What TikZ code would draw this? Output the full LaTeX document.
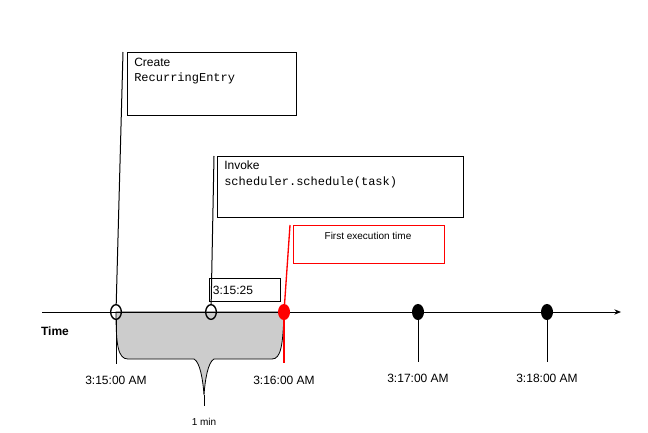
\documentclass[tikz,border=0pt]{standalone}
\usepackage{fontspec}
\setmainfont{Liberation Sans}
\setmonofont{Liberation Mono}
\usetikzlibrary{arrows.meta,shapes.geometric}
\begin{document}
\begin{tikzpicture}[x=0.75pt,y=-0.75pt,
  lbl/.style={font=\fontsize{9}{10}\selectfont,inner sep=0pt},
  box/.style={draw,line width=0.75pt},
  ev/.style={draw,line width=1pt,ellipse,minimum width=8pt,minimum height=11pt,inner sep=0pt},
  ln/.style={line width=0.75pt}]
\useasboundingbox (0,0) rectangle (648,432);
% brace fill
\path[fill=gray!40,draw=black,line width=0.6pt] (116,312) .. controls (116,345) and (118,359) .. (128,359) -- (194,359) .. controls (200,362) and (203,380) .. (204,395)
  .. controls (205,380) and (208,362) .. (214,359) -- (272,359) .. controls (281,359) and (283,345) .. (284,312) -- cycle;
\coordinate (tip) at (204,395); \coordinate (tipb) at (204,406);
\draw[ln] (tip) -- (tipb);
% axis
\coordinate (a0) at (42,312); \coordinate (a1) at (621,312);
\draw[ln,-{Stealth[length=5pt,width=4pt]}] (a0) -- (a1);
\node[font=\fontsize{9}{10}\selectfont\bfseries,inner sep=0pt] (time) at (55,331) {Time};
% events
\node[ev] (e1) at (116,312) {};
\node[ev] (e2) at (211,312) {};
\node[ev,draw=red,fill=red] (e3) at (284,312) {};
\node[ev,fill=black] (e4) at (418,312) {};
\node[ev,fill=black] (e5) at (547,312) {};
\coordinate (b1) at (116,364); \coordinate (b3) at (284,363);
\coordinate (b4) at (418,362); \coordinate (b5) at (547,362);
\draw[ln] (e1) -- (b1); \draw[ln] (e4) -- (b4); \draw[ln] (e5) -- (b5);
\draw[red,line width=1pt] (e3) -- (b3);
% boxes
\node[box,anchor=north west,minimum width=127pt,minimum height=47pt] (c1) at (127,52) {};
\node[anchor=north west,inner sep=0pt,align=left,font=\fontsize{9}{11.5}\selectfont] at (134,58) {Create\\\texttt{RecurringEntry}};
\node[box,anchor=north west,minimum width=184.5pt,minimum height=46pt] (c2) at (217,156) {};
\node[anchor=north west,inner sep=0pt,align=left,font=\fontsize{9}{11.5}\selectfont] at (224,161) {Invoke\\\texttt{scheduler.schedule(task)}};
\node[box,draw=red,line width=0.6pt,anchor=north west,minimum width=113pt,minimum height=28.5pt] (c3) at (293,225) {};
\node[lbl,font=\fontsize{7.5}{9}\selectfont] at (368,236) {First execution time};
\node[box,anchor=north west,minimum width=53pt,minimum height=17pt,font=\fontsize{9}{10}\selectfont] (t) at (209,278) {};
\node[lbl] at (233,290) {3:15:25};
\coordinate (p1) at (123,52); \coordinate (p2) at (214,156); \coordinate (p3) at (290,225);
\draw[ln] (e1) -- (p1); \draw[ln] (e2) -- (p2);
\draw[red,line width=1pt] (e3) -- (p3);
% labels
\node[lbl] at (116,380) {3:15:00 AM};
\node[lbl] at (284,380) {3:16:00 AM};
\node[lbl] at (418,378) {3:17:00 AM};
\node[lbl] at (547,378) {3:18:00 AM};
\node[lbl,font=\fontsize{7.5}{9}\selectfont] at (204,422) {1 min};
\end{tikzpicture}
\end{document}
